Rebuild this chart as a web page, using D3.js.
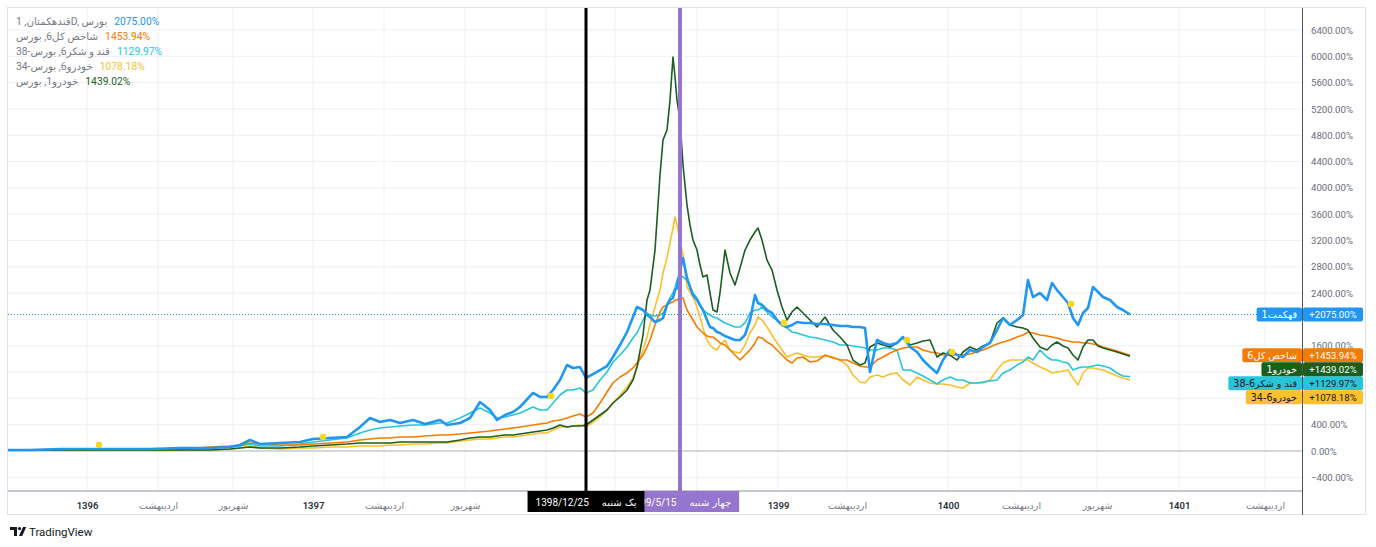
<!DOCTYPE html>
<html><head><meta charset="utf-8">
<script src="https://cdn.jsdelivr.net/npm/d3@7"></script>
<style>
html,body{margin:0;padding:0;background:#fff;}
svg{display:block;font-family:Roboto,"DejaVu Sans",sans-serif;}
</style></head><body>
<svg id="chart" width="1376" height="547"></svg>
<script>
// ---- data (bar index = trading-day index) ----
const xBars = [0,22,52,82,112,142,172,202,222,232,242,252,272,292,305,322,339,352,362,372,382,392,405,417,432,439,452,462,472,482,489,497,505,512,525,532,539,545,552,559,565,572,578,585,592,599,605,612,619,625,629,635,639,642,647,652,655,659,662,665,667,669,672,675,679,682,685,689,692,695,699,702,705,709,712,717,722,727,732,737,742,747,750,754,759,764,769,774,779,784,789,795,802,809,817,825,832,839,845,852,857,862,869,875,882,889,895,902,909,915,922,929,935,942,949,955,962,969,975,982,989,995,1002,1009,1015,1020,1025,1032,1039,1044,1049,1055,1060,1065,1070,1075,1080,1085,1090,1095,1102,1109,1115,1122];

const blueValues = [15,15,30,30,30,30,46,46,61,91,
 167,106,122,137,182,198,213,365,502,441,
 471,426,471,410,471,395,426,502,745,623,
 471,547,593,669,882,821,821,927,1079,1307,
 1262,1277,1110,1170,1231,1292,1429,1611,1809,2037,
 2189,2143,2067,2037,1961,1991,2022,2219,2295,2326,
 2447,2478,2751,2934,2630,2493,2371,2295,2219,2143,
 1991,1885,1870,1809,1794,1748,1718,1687,1687,1763,
 1991,2371,2250,2219,2143,2098,1991,1915,1885,1915,
 1961,1946,1946,1930,1930,1915,1900,1900,1885,1885,
 1870,1201,1687,1642,1611,1642,1733,1581,1505,1383,
 1277,1186,1383,1535,1459,1429,1535,1505,1581,1642,
 1839,2022,1915,1991,2067,2599,2341,2402,2295,2554,
 2447,2341,2250,2022,1915,2098,2174,2493,2417,2341,
 2295,2189,2143,2075];

const cyanValues = [15,15,15,15,30,30,30,46,61,76,
 106,76,76,106,137,167,198,274,319,350,
 365,380,395,395,426,426,502,578,654,578,
 502,517,547,578,669,623,623,730,851,927,
 927,958,882,927,1079,1201,1353,1459,1581,1718,
 1794,1991,2098,2067,2052,2067,2098,2219,2326,2402,
 2478,2599,2675,2645,2599,2493,2402,2326,2219,2143,
 2098,2067,2037,2022,1991,1946,1915,1885,1885,1946,
 2098,2143,2143,2189,2113,2037,1991,1915,1870,1809,
 1794,1763,1733,1718,1687,1657,1611,1611,1596,1581,
 1566,1535,1535,1566,1566,1535,1231,1231,1186,1140,
 1079,1018,1079,1125,1079,1079,1034,1034,1049,1064,
 1079,1186,1231,1307,1353,1429,1383,1535,1429,1383,
 1383,1353,1338,1231,1262,1277,1277,1292,1307,1292,
 1262,1186,1140,1130];

const orangeValues = [15,15,15,15,15,15,30,61,76,91,
 122,106,91,91,106,122,137,167,182,198,
 198,213,213,228,243,243,258,274,289,304,
 319,334,350,365,395,410,426,456,471,502,
 532,562,517,578,730,897,1034,1125,1186,1262,
 1338,1459,1581,1687,1915,2113,2189,2219,2250,2265,
 2295,2295,2341,2326,2143,2067,1991,1885,1839,1794,
 1748,1733,1733,1687,1642,1611,1535,1459,1383,1459,
 1535,1642,1733,1718,1657,1611,1535,1459,1383,1338,
 1414,1429,1353,1368,1459,1414,1383,1383,1338,1292,
 1277,1277,1383,1429,1490,1535,1566,1581,1581,1535,
 1505,1490,1459,1459,1459,1459,1474,1505,1535,1581,
 1626,1657,1687,1733,1763,1809,1794,1763,1748,1733,
 1718,1687,1672,1657,1657,1642,1642,1626,1611,1581,
 1550,1520,1490,1454];

const greenValues = [15,15,15,15,15,15,15,15,30,46,
 61,46,46,61,76,91,106,122,122,122,
 122,137,137,137,137,137,167,198,213,213,
 228,243,243,258,289,304,319,350,395,365,
 380,380,395,471,547,623,730,821,927,1079,
 1277,1763,2295,2447,3055,4195,4727,4879,5335,5989,
 5685,5335,5031,4347,3739,3435,3207,3055,2827,2645,
 2675,2402,2143,2113,2402,3055,2706,2523,2782,3055,
 3207,3329,3390,3207,2903,2751,2447,2189,1991,2113,
 2189,2098,1991,1885,2037,1839,1733,1611,1383,1307,
 1338,1581,1642,1611,1581,1642,1733,1611,1642,1672,
 1687,1429,1490,1459,1383,1505,1581,1535,1596,1642,
 1946,2022,1915,1885,1870,1839,1718,1581,1535,1611,
 1657,1596,1566,1459,1383,1581,1687,1687,1596,1566,
 1535,1505,1474,1439];

const yellowValues = [15,15,15,15,15,15,15,15,30,46,
 76,46,30,46,46,61,61,76,76,76,
 91,91,106,106,122,122,152,167,182,182,
 198,213,213,228,258,274,274,319,365,365,
 380,395,365,441,517,623,730,851,973,1110,
 1277,1535,1733,1915,2189,2447,2706,2934,3162,3390,
 3557,3435,3207,2979,2493,2417,2341,2189,2037,1870,
 1687,1611,1566,1535,1611,1687,1535,1505,1490,1611,
 1794,1915,2037,1991,1885,1763,1642,1535,1429,1459,
 1490,1459,1429,1429,1444,1429,1383,1307,1155,1049,
 1034,1125,1155,1125,1170,1186,1079,1003,1125,1079,
 1034,1018,1018,1003,973,958,1034,1034,1034,1079,
 1231,1338,1383,1383,1383,1383,1338,1277,1231,1186,
 1201,1216,1231,1110,1003,1186,1262,1262,1246,1231,
 1186,1140,1110,1078];

const legendNames = ["قندهکمتان, 1D, بورس","شاخص کل6, بورس","قند و شکر6, بورس-38","خودرو6, بورس-34","خودرو1, بورس"];
const symbolNames = ["قهکمت1","شاخص کل6","قند و شکر6-38","خودرو6-34","خودرو1"];
const lastValues = [2075.00, 1453.94, 1129.97, 1078.18, 1439.02];

const yTickValues = [-400,0,400,800,1200,1600,2000,2400,2800,3200,3600,4000,4400,4800,5200,5600,6000,6400];
const xTickBars = [79,150,225,305,376,457,538,607,689,770,839,940,1013,1089,1171,1257];
const xTickLabels = ["1396","اردیبهشت","شهریور","1397","اردیبهشت","شهریور","1398","اردیبهشت","شهریور","1399","اردیبهشت","1400","اردیبهشت","شهریور","1401","اردیبهشت"];

const dividendBars = [91,315,543,776,899,944,1063];
const dividendValues = [91,213,836,1946,1687,1505,2234];

const markerBars = [578,672];
const markerDates = ["1398/12/25","1399/5/15"];
const markerDays = ["یک شنبه","چهار شنبه"];

// ---- styles ----
const seriesData = [blueValues, orangeValues, cyanValues, yellowValues, greenValues];
const colors = ["#2196f3","#f57c00","#26c6da","#fbc02d","#1b5e20"];
const boxText = ["#fff","#fff","#131722","#131722","#fff"];
const widths = [2.6,1.6,1.6,1.6,1.6];
const drawOrder = [3,2,1,4,0];

const svg = d3.select("#chart");
const plotL=8, plotR=1302, plotT=8, plotB=491, frameR=1366, frameB=515;
const x = d3.scaleLinear().domain([0,1294]).range([plotL,plotR]);
const y = d3.scaleLinear().domain([-608,6734.4]).range([plotB,plotT]);

svg.append("defs").append("clipPath").attr("id","plotclip")
  .append("rect").attr("x",plotL).attr("y",plotT).attr("width",plotR-plotL).attr("height",plotB-plotT);

// grid
const grid = svg.append("g");
grid.selectAll("line.h").data(yTickValues).join("line")
  .attr("x1",plotL).attr("x2",plotR).attr("y1",d=>y(d)).attr("y2",d=>y(d))
  .attr("stroke","#eef1f6").attr("stroke-width",1);
grid.selectAll("line.v").data(xTickBars).join("line")
  .attr("x1",d=>x(d)).attr("x2",d=>x(d)).attr("y1",plotT).attr("y2",plotB)
  .attr("stroke","#eef1f6").attr("stroke-width",1);
svg.append("line").attr("x1",plotL).attr("x2",plotR).attr("y1",y(0)).attr("y2",y(0))
  .attr("stroke","#b2b5be").attr("stroke-width",1);

// frame
svg.append("rect").attr("x",plotL-0.5).attr("y",plotT-0.5).attr("width",frameR-plotL).attr("height",frameB-plotT)
  .attr("fill","none").attr("stroke","#e0e3eb");

// price line dotted
svg.append("line").attr("x1",plotL).attr("x2",plotR).attr("y1",y(lastValues[0])).attr("y2",y(lastValues[0]))
  .attr("stroke","#2196f3").attr("stroke-width",1).attr("stroke-dasharray","1,2");

// series
const line = d3.line().x((d,i)=>x(xBars[i])).y(d=>y(d));
const sg = svg.append("g").attr("clip-path","url(#plotclip)");
drawOrder.forEach(k=>{
  sg.append("path").datum(seriesData[k]).attr("d",line)
    .attr("fill","none").attr("stroke",colors[k]).attr("stroke-width",widths[k])
    .attr("stroke-linejoin","round");
});
sg.selectAll("circle.dv").data(dividendBars).join("circle")
  .attr("cx",d=>x(d)).attr("cy",(d,i)=>y(dividendValues[i])).attr("r",3.3)
  .attr("fill","#f9d71c");

// x axis
svg.append("line").attr("x1",plotL).attr("x2",plotR).attr("y1",plotB).attr("y2",plotB)
  .attr("stroke","#b2b5be").attr("stroke-width",1.5);
const xAxis = svg.append("g").attr("transform",`translate(0,${plotB})`)
  .call(d3.axisBottom(x).tickValues(xTickBars).tickSize(0).tickPadding(11)
    .tickFormat((d,i)=>xTickLabels[i]));
xAxis.select(".domain").remove();
const isYear = i => /^\d+$/.test(xTickLabels[i]);
xAxis.selectAll("text").attr("font-family","Roboto,'DejaVu Sans',sans-serif")
  .attr("font-size","9.5px")
  .attr("font-weight",(d,i)=>isYear(i)?"600":"400")
  .attr("fill",(d,i)=>isYear(i)?"#2a2e39":"#787b86");

// y axis labels
const yAxis = svg.append("g").attr("transform",`translate(${plotR},0)`)
  .call(d3.axisRight(y).tickValues(yTickValues).tickSize(0).tickPadding(9)
    .tickFormat(d=>(d<0?"\u2212":"")+Math.abs(d).toFixed(2)+"%"));
yAxis.select(".domain").remove();
yAxis.selectAll("text").attr("font-family","Roboto,sans-serif").attr("font-size","9.6px").attr("fill","#6a6d78");

// vertical marker lines and date labels
const mColors = ["#000","#9575cd"];
const mWidths = [3,4];
const mBoxes = [];
[1,0].forEach(i=>{
  svg.append("line").attr("x1",x(markerBars[i])).attr("x2",x(markerBars[i])).attr("y1",plotT).attr("y2",plotB)
    .attr("stroke",mColors[i]).attr("stroke-width",mWidths[i]);
});
[1,0].forEach(i=>{
  const g = svg.append("g");
  const r = g.append("rect").attr("fill",mColors[i]);
  const t1 = g.append("text").text(markerDates[i]).attr("font-size","10px").attr("fill","#fff")
     .attr("font-family","Roboto,sans-serif").attr("dominant-baseline","central").attr("y",502);
  const t2 = g.append("text").text(markerDays[i]).attr("font-size","10px").attr("fill","#fff")
     .attr("font-family","'DejaVu Sans',sans-serif").attr("dominant-baseline","central").attr("y",502);
  const w1 = t1.node().getComputedTextLength(), w2 = t2.node().getComputedTextLength();
  const bw = w1+w2+29, cx = x(markerBars[i]), bx = cx-bw/2;
  mBoxes.push([bx,bx+bw]);
  r.attr("x",bx).attr("y",491).attr("width",bw).attr("height",21);
  t1.attr("x",bx+8);
  t2.attr("x",bx+bw-8).attr("text-anchor","end");
});
xAxis.selectAll(".tick").filter(d=>mBoxes.some(b=>x(d)>b[0]-10 && x(d)<b[1]+10)).remove();

// last value labels (stacked)
const bh = 14;
const order = d3.range(5).sort((a,b)=>y(lastValues[a])-y(lastValues[b]));
let prevBottom = -Infinity;
const tops = [];
order.forEach(k=>{ const t = Math.max(y(lastValues[k])-bh/2, prevBottom); tops[k]=t; prevBottom=t+bh; });
yAxis.selectAll(".tick").filter(d=>tops.some(t=>y(d)>t && y(d)<t+bh)).remove();

const lg = svg.append("g");
d3.range(5).forEach(k=>{
  const t = tops[k];
  lg.append("rect").attr("x",plotR+1).attr("y",t).attr("width",60).attr("height",bh).attr("rx",2).attr("fill",colors[k]);
  lg.append("text").attr("x",plotR+31).attr("y",t+bh/2).attr("text-anchor","middle").attr("dominant-baseline","central")
    .attr("font-size","9.6px").attr("fill",boxText[k]).text("+"+lastValues[k].toFixed(2)+"%");
  const nt = lg.append("text").attr("y",t+bh/2).attr("dominant-baseline","central")
    .attr("font-size","9.6px").attr("fill",boxText[k]).attr("font-family","'DejaVu Sans',sans-serif").text(symbolNames[k]);
  const w = nt.node().getComputedTextLength();
  lg.insert("rect", () => nt.node()).attr("x",plotR-w-10).attr("y",t).attr("width",w+10).attr("height",bh).attr("rx",2).attr("fill",colors[k]);
  nt.attr("x",plotR-5).attr("text-anchor","end");
});
svg.append("line").attr("x1",plotR+0.5).attr("x2",plotR+0.5).attr("y1",plotT).attr("y2",frameB)
  .attr("stroke","#50535e").attr("stroke-width",1);

// legend
const legendY = [21,36,51,66,81];
d3.range(5).forEach(k=>{
  const nt = svg.append("text").attr("x",16).attr("y",legendY[k]).attr("dominant-baseline","central")
    .attr("font-size","10.3px").attr("fill","#787b86").attr("font-family","Roboto,'DejaVu Sans',sans-serif").text(legendNames[k]);
  const w = nt.node().getComputedTextLength();
  svg.append("text").attr("x",16+w+7).attr("y",legendY[k]).attr("dominant-baseline","central")
    .attr("font-size","10.3px").attr("fill",colors[k]).text(lastValues[k].toFixed(2)+"%");
});

// TradingView logo
const logo = svg.append("g").attr("fill","#131722");
logo.append("path").attr("d","M10,527 h7 v9 h-3 v-6 h-4 z");
logo.append("circle").attr("cx",19.5).attr("cy",528.6).attr("r",1.6);
logo.append("path").attr("d","M23,527 h3.2 l-4,9 h-3.2 z");
svg.append("text").attr("x",29).attr("y",535.5).attr("font-size","11.5px").attr("fill","#131722").text("TradingView");
</script>
</body></html>
